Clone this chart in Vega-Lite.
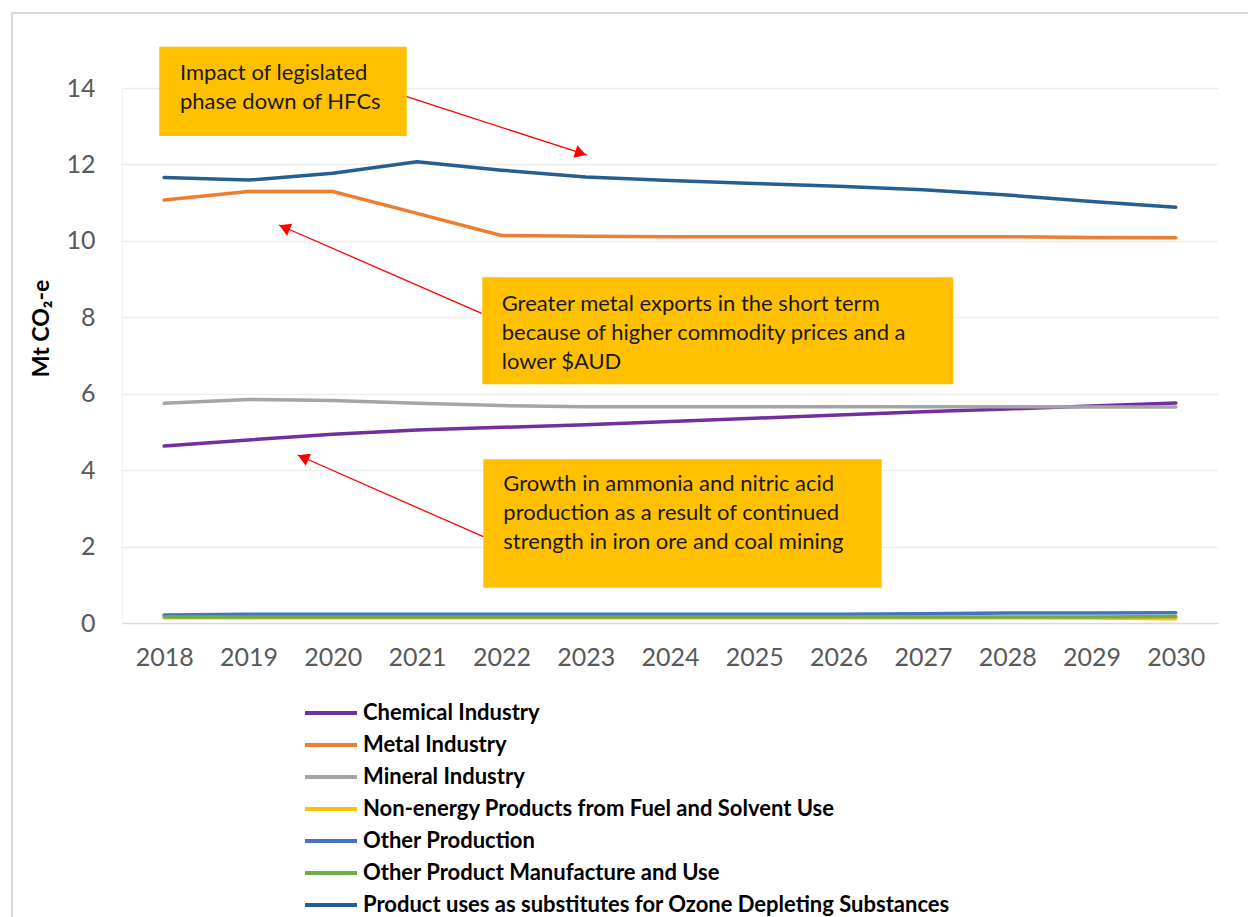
{
  "$schema": "https://vega.github.io/schema/vega-lite/v6.json",
  "width": 1096,
  "height": 535,
  "autosize": {"type": "none"},
  "padding": {"left": 122, "top": 88, "right": 30, "bottom": 294},
  "background": "white",
  "config": {"view": {"stroke": null}, "font": "Lato"},
  "datasets": {
    "series": [
      {"year": 2018, "series": "Chemical Industry", "value": 4.63},
      {"year": 2019, "series": "Chemical Industry", "value": 4.79},
      {"year": 2020, "series": "Chemical Industry", "value": 4.94},
      {"year": 2021, "series": "Chemical Industry", "value": 5.05},
      {"year": 2022, "series": "Chemical Industry", "value": 5.12},
      {"year": 2023, "series": "Chemical Industry", "value": 5.19},
      {"year": 2024, "series": "Chemical Industry", "value": 5.27},
      {"year": 2025, "series": "Chemical Industry", "value": 5.36},
      {"year": 2026, "series": "Chemical Industry", "value": 5.44},
      {"year": 2027, "series": "Chemical Industry", "value": 5.53},
      {"year": 2028, "series": "Chemical Industry", "value": 5.60},
      {"year": 2029, "series": "Chemical Industry", "value": 5.68},
      {"year": 2030, "series": "Chemical Industry", "value": 5.76},
      {"year": 2018, "series": "Metal Industry", "value": 11.07},
      {"year": 2019, "series": "Metal Industry", "value": 11.29},
      {"year": 2020, "series": "Metal Industry", "value": 11.29},
      {"year": 2021, "series": "Metal Industry", "value": 10.72},
      {"year": 2022, "series": "Metal Industry", "value": 10.14},
      {"year": 2023, "series": "Metal Industry", "value": 10.12},
      {"year": 2024, "series": "Metal Industry", "value": 10.11},
      {"year": 2025, "series": "Metal Industry", "value": 10.11},
      {"year": 2026, "series": "Metal Industry", "value": 10.11},
      {"year": 2027, "series": "Metal Industry", "value": 10.11},
      {"year": 2028, "series": "Metal Industry", "value": 10.11},
      {"year": 2029, "series": "Metal Industry", "value": 10.09},
      {"year": 2030, "series": "Metal Industry", "value": 10.08},
      {"year": 2018, "series": "Mineral Industry", "value": 5.75},
      {"year": 2019, "series": "Mineral Industry", "value": 5.85},
      {"year": 2020, "series": "Mineral Industry", "value": 5.82},
      {"year": 2021, "series": "Mineral Industry", "value": 5.75},
      {"year": 2022, "series": "Mineral Industry", "value": 5.69},
      {"year": 2023, "series": "Mineral Industry", "value": 5.66},
      {"year": 2024, "series": "Mineral Industry", "value": 5.66},
      {"year": 2025, "series": "Mineral Industry", "value": 5.66},
      {"year": 2026, "series": "Mineral Industry", "value": 5.66},
      {"year": 2027, "series": "Mineral Industry", "value": 5.66},
      {"year": 2028, "series": "Mineral Industry", "value": 5.66},
      {"year": 2029, "series": "Mineral Industry", "value": 5.65},
      {"year": 2030, "series": "Mineral Industry", "value": 5.65},
      {"year": 2018, "series": "Non-energy Products from Fuel and Solvent Use", "value": 0.14},
      {"year": 2019, "series": "Non-energy Products from Fuel and Solvent Use", "value": 0.14},
      {"year": 2020, "series": "Non-energy Products from Fuel and Solvent Use", "value": 0.14},
      {"year": 2021, "series": "Non-energy Products from Fuel and Solvent Use", "value": 0.14},
      {"year": 2022, "series": "Non-energy Products from Fuel and Solvent Use", "value": 0.14},
      {"year": 2023, "series": "Non-energy Products from Fuel and Solvent Use", "value": 0.14},
      {"year": 2024, "series": "Non-energy Products from Fuel and Solvent Use", "value": 0.14},
      {"year": 2025, "series": "Non-energy Products from Fuel and Solvent Use", "value": 0.14},
      {"year": 2026, "series": "Non-energy Products from Fuel and Solvent Use", "value": 0.14},
      {"year": 2027, "series": "Non-energy Products from Fuel and Solvent Use", "value": 0.14},
      {"year": 2028, "series": "Non-energy Products from Fuel and Solvent Use", "value": 0.14},
      {"year": 2029, "series": "Non-energy Products from Fuel and Solvent Use", "value": 0.13},
      {"year": 2030, "series": "Non-energy Products from Fuel and Solvent Use", "value": 0.11},
      {"year": 2018, "series": "Other Production", "value": 0.21},
      {"year": 2019, "series": "Other Production", "value": 0.23},
      {"year": 2020, "series": "Other Production", "value": 0.23},
      {"year": 2021, "series": "Other Production", "value": 0.23},
      {"year": 2022, "series": "Other Production", "value": 0.23},
      {"year": 2023, "series": "Other Production", "value": 0.23},
      {"year": 2024, "series": "Other Production", "value": 0.23},
      {"year": 2025, "series": "Other Production", "value": 0.23},
      {"year": 2026, "series": "Other Production", "value": 0.23},
      {"year": 2027, "series": "Other Production", "value": 0.24},
      {"year": 2028, "series": "Other Production", "value": 0.26},
      {"year": 2029, "series": "Other Production", "value": 0.26},
      {"year": 2030, "series": "Other Production", "value": 0.27},
      {"year": 2018, "series": "Other Product Manufacture and Use", "value": 0.16},
      {"year": 2019, "series": "Other Product Manufacture and Use", "value": 0.16},
      {"year": 2020, "series": "Other Product Manufacture and Use", "value": 0.16},
      {"year": 2021, "series": "Other Product Manufacture and Use", "value": 0.16},
      {"year": 2022, "series": "Other Product Manufacture and Use", "value": 0.16},
      {"year": 2023, "series": "Other Product Manufacture and Use", "value": 0.16},
      {"year": 2024, "series": "Other Product Manufacture and Use", "value": 0.16},
      {"year": 2025, "series": "Other Product Manufacture and Use", "value": 0.16},
      {"year": 2026, "series": "Other Product Manufacture and Use", "value": 0.16},
      {"year": 2027, "series": "Other Product Manufacture and Use", "value": 0.16},
      {"year": 2028, "series": "Other Product Manufacture and Use", "value": 0.16},
      {"year": 2029, "series": "Other Product Manufacture and Use", "value": 0.16},
      {"year": 2030, "series": "Other Product Manufacture and Use", "value": 0.17},
      {"year": 2018, "series": "Product uses as substitutes for Ozone Depleting Substances", "value": 11.66},
      {"year": 2019, "series": "Product uses as substitutes for Ozone Depleting Substances", "value": 11.59},
      {"year": 2020, "series": "Product uses as substitutes for Ozone Depleting Substances", "value": 11.77},
      {"year": 2021, "series": "Product uses as substitutes for Ozone Depleting Substances", "value": 12.07},
      {"year": 2022, "series": "Product uses as substitutes for Ozone Depleting Substances", "value": 11.85},
      {"year": 2023, "series": "Product uses as substitutes for Ozone Depleting Substances", "value": 11.67},
      {"year": 2024, "series": "Product uses as substitutes for Ozone Depleting Substances", "value": 11.58},
      {"year": 2025, "series": "Product uses as substitutes for Ozone Depleting Substances", "value": 11.50},
      {"year": 2026, "series": "Product uses as substitutes for Ozone Depleting Substances", "value": 11.43},
      {"year": 2027, "series": "Product uses as substitutes for Ozone Depleting Substances", "value": 11.34},
      {"year": 2028, "series": "Product uses as substitutes for Ozone Depleting Substances", "value": 11.20},
      {"year": 2029, "series": "Product uses as substitutes for Ozone Depleting Substances", "value": 11.03},
      {"year": 2030, "series": "Product uses as substitutes for Ozone Depleting Substances", "value": 10.88}
    ],
    "frame": [
      {"x1": 2016.195, "x2": 2030.879, "y1": 15.963, "y2": -8.03}
    ],
    "boxes": [
      {"x1": 2017.942, "x2": 2020.877, "y1": 15.081, "y2": 12.744, "tx": 2018.188, "ty": 14.21, "label": "Impact of legislated\nphase down of HFCs"},
      {"x1": 2021.774, "x2": 2027.36, "y1": 9.046, "y2": 6.246, "tx": 2022.004, "ty": 8.172, "label": "Greater metal exports in the short term\nbecause of higher commodity prices and a\nlower $AUD"},
      {"x1": 2021.786, "x2": 2026.511, "y1": 4.284, "y2": 0.924, "tx": 2022.023, "ty": 3.462, "label": "Growth in ammonia and nitric acid\nproduction as a result of continued\nstrength in iron ore and coal mining"}
    ],
    "arrows": [
      {"id": 1, "sx": 2020.877, "sy": 13.773, "ex": 2023.012, "ey": 12.247, "hx": 2022.941, "hy": 12.294},
      {"id": 2, "sx": 2021.767, "sy": 8.104, "ex": 2019.362, "ey": 10.415, "hx": 2019.427, "hy": 10.352},
      {"id": 3, "sx": 2021.786, "sy": 2.258, "ex": 2019.584, "ey": 4.396, "hx": 2019.649, "hy": 4.333}
    ]
  },
  "layer": [
    {
      "data": {"name": "series"},
      "mark": {"type": "line", "strokeWidth": 3.5, "strokeJoin": "round", "strokeCap": "round"},
      "encoding": {
        "x": {
          "field": "year", "type": "quantitative", "title": null,
          "scale": {"domain": [2017.5, 2030.5], "nice": false, "zero": false},
          "axis": {
            "values": [2018, 2019, 2020, 2021, 2022, 2023, 2024, 2025, 2026, 2027, 2028, 2029, 2030],
            "format": "d", "grid": false, "domain": false, "ticks": false,
            "labelFontSize": 25, "labelColor": "#595959", "labelPadding": 22, "labelFont": "Lato"
          }
        },
        "y": {
          "field": "value", "type": "quantitative", "title": "Mt CO₂-e",
          "scale": {"domain": [0, 14], "nice": false},
          "axis": {
            "values": [0, 2, 4, 6, 8, 10, 12, 14],
            "titleFontSize": 23, "titleFontWeight": "bold", "titleColor": "#000000", "titleFont": "Lato",
            "titleX": -81, "titleY": 240, "titleAngle": -90, "titleAlign": "center", "titleBaseline": "middle",
            "domain": true, "domainColor": "#F0F0F0", "ticks": false,
            "grid": true, "gridColor": {"condition": {"test": "datum.value === 0", "value": "#D9D9D9"}, "value": "#EDEDED"}, "gridWidth": 1.3,
            "labelFontSize": 25, "labelColor": "#595959", "labelPadding": 27, "labelFont": "Lato"
          }
        },
        "color": {
          "field": "series", "type": "nominal",
          "scale": {
            "domain": ["Chemical Industry", "Metal Industry", "Mineral Industry", "Non-energy Products from Fuel and Solvent Use", "Other Production", "Other Product Manufacture and Use", "Product uses as substitutes for Ozone Depleting Substances"],
            "range": ["#7030A0", "#ED7D31", "#A5A5A5", "#FFC000", "#4472C4", "#70AD47", "#255E91"]
          },
          "legend": {
            "title": null, "orient": "none", "legendX": 181, "legendY": 609, "direction": "vertical",
            "symbolType": "stroke", "symbolSize": 2704, "symbolStrokeWidth": 4,
            "clipHeight": 32, "rowPadding": 0, "labelOffset": 4, "padding": 0,
            "labelFont": "Lato", "labelFontSize": 22, "labelFontWeight": "bold", "labelColor": "#000000", "labelLimit": 0
          }
        }
      }
    },
    {
      "data": {"name": "boxes"},
      "mark": {"type": "rect", "fill": "#FFC000"},
      "encoding": {
        "x": {"field": "x1", "type": "quantitative", "title": null},
        "x2": {"field": "x2"},
        "y": {"field": "y1", "type": "quantitative", "title": "Mt CO₂-e"},
        "y2": {"field": "y2"}
      }
    },
    {
      "data": {"name": "boxes"},
      "mark": {"type": "text", "align": "left", "baseline": "alphabetic", "font": "Lato", "fontSize": 22, "lineHeight": 29.3, "lineBreak": "\n", "color": "#1A1A1A"},
      "encoding": {
        "x": {"field": "tx", "type": "quantitative", "title": null},
        "y": {"field": "ty", "type": "quantitative", "title": "Mt CO₂-e"},
        "text": {"field": "label", "type": "nominal"}
      }
    },
    {
      "data": {"name": "arrows"},
      "mark": {"type": "rule", "color": "#FF0000", "strokeWidth": 1.3},
      "encoding": {
        "x": {"field": "sx", "type": "quantitative", "title": null},
        "y": {"field": "sy", "type": "quantitative", "title": "Mt CO₂-e"},
        "x2": {"field": "ex"},
        "y2": {"field": "ey"}
      }
    },
    {
      "data": {"name": "arrows"},
      "transform": [{"filter": "datum.id === 1"}],
      "mark": {"type": "point", "shape": "triangle-up", "filled": true, "color": "#FF0000", "opacity": 1, "size": 170, "angle": 108},
      "encoding": {
        "x": {"field": "hx", "type": "quantitative", "title": null},
        "y": {"field": "hy", "type": "quantitative", "title": "Mt CO₂-e"}
      }
    },
    {
      "data": {"name": "arrows"},
      "transform": [{"filter": "datum.id !== 1"}],
      "mark": {"type": "point", "shape": "triangle-up", "filled": true, "color": "#FF0000", "opacity": 1, "size": 170, "angle": 293.6},
      "encoding": {
        "x": {"field": "hx", "type": "quantitative", "title": null},
        "y": {"field": "hy", "type": "quantitative", "title": "Mt CO₂-e"}
      }
    },
    {
      "data": {"name": "frame"},
      "mark": {"type": "rect", "fill": null, "stroke": "#D9D9D9", "strokeWidth": 2},
      "encoding": {
        "x": {"field": "x1", "type": "quantitative", "title": null},
        "x2": {"field": "x2"},
        "y": {"field": "y1", "type": "quantitative", "title": "Mt CO₂-e"},
        "y2": {"field": "y2"}
      }
    }
  ]
}
